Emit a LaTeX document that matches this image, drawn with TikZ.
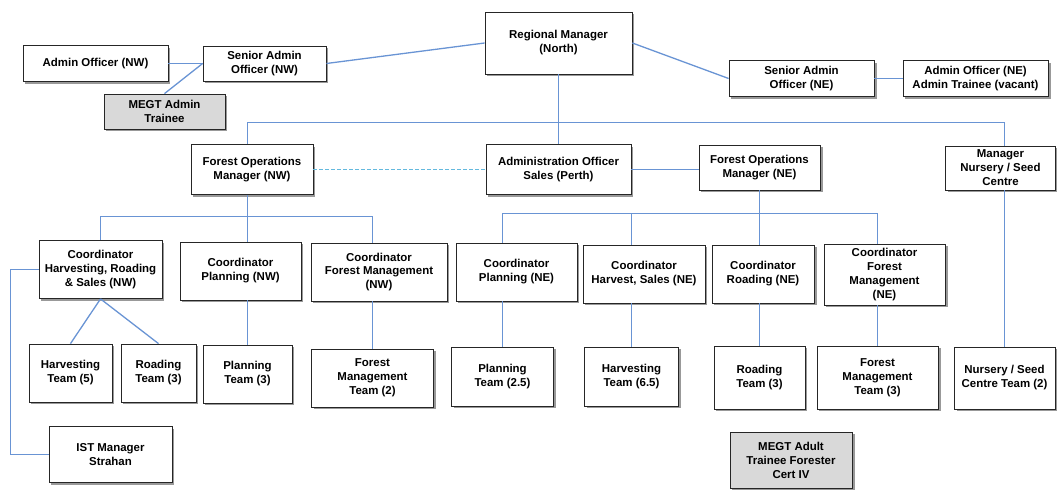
\documentclass[tikz,border=0pt]{standalone}
\usepackage{fontspec}
\setmainfont{Liberation Sans}
\usetikzlibrary{shadows}
\definecolor{linkblue}{RGB}{105,148,212}
\definecolor{dashblue}{RGB}{100,185,222}
\definecolor{traineegray}{RGB}{217,217,217}

\begin{document}
\begin{tikzpicture}[x=1bp, y=-1bp,
    font=\bfseries\fontsize{11.5}{14}\selectfont,
    box/.style={draw=black!85, line width=0.8pt, fill=white, align=center, inner sep=1pt,
        drop shadow={shadow xshift=2.5pt, shadow yshift=-2.5pt, fill=black, opacity=0.4}},
    trainee/.style={box, fill=traineegray},
    link/.style={draw=linkblue, line width=1.3bp},
    dotlink/.style={draw=dashblue, line width=1.3bp, dash pattern=on 4bp off 2bp}]

    \useasboundingbox (0,0) rectangle (1057,490);

    % Top row
    \node[box, minimum width=145bp, minimum height=36bp] (adminnw) at (95.5,63.5) {Admin Officer (NW)};
    \node[box, minimum width=123bp, minimum height=35bp] (seniornw) at (264.5,63.5) {Senior Admin\\Officer (NW)};
    \node[trainee, minimum width=121bp, minimum height=35bp] (megtadmin) at (164.5,111.5) {MEGT Admin\\Trainee};
    \node[box, minimum width=147bp, minimum height=62bp] (regional) at (558.5,43) {Regional Manager\\(North)};
    \node[box, minimum width=145bp, minimum height=36bp] (seniorne) at (801.5,78.5) {Senior Admin\\Officer (NE)};
    \node[box, minimum width=145bp, minimum height=36bp] (adminne) at (975.5,78.5) {Admin Officer (NE)\\Admin Trainee (vacant)};

    % Managers
    \node[box, minimum width=122bp, minimum height=50bp] (fomnw) at (252,169.5) {Forest Operations\\Manager (NW)};
    \node[box, minimum width=145bp, minimum height=50bp] (adminsales) at (558.5,169.5) {Administration Officer\\Sales (Perth)};
    \node[box, minimum width=121bp, minimum height=45bp] (fomne) at (759.5,167.5) {Forest Operations\\Manager (NE)};
    \node[box, minimum width=110bp, minimum height=44bp] (mgrnursery) at (1000.5,168) {Manager\\Nursery / Seed\\Centre};

    % Coordinators
    \node[box, minimum width=123bp, minimum height=58bp] (coordhrsnw) at (100.5,269.5) {Coordinator\\Harvesting, Roading\\\& Sales (NW)};
    \node[box, minimum width=121bp, minimum height=58bp] (coordplannw) at (240.5,271) {Coordinator\\Planning (NW)};
    \node[box, minimum width=136bp, minimum height=58bp] (coordfmnw) at (379,272) {Coordinator\\Forest Management\\(NW)};
    \node[box, minimum width=121bp, minimum height=58bp] (coordplanne) at (516.5,272) {Coordinator\\Planning (NE)};
    \node[box, minimum width=122bp, minimum height=58bp] (coordhsne) at (644,274) {Coordinator\\Harvest, Sales (NE)};
    \node[box, minimum width=102bp, minimum height=58bp] (coordroadne) at (763,274) {Coordinator\\Roading (NE)};
    \node[box, minimum width=121bp, minimum height=61bp] (coordfmne) at (884.5,274.5) {Coordinator\\Forest\\Management\\(NE)};

    % Teams
    \node[box, minimum width=83bp, minimum height=58bp] (hteamnw) at (70.5,373) {Harvesting\\Team (5)};
    \node[box, minimum width=75bp, minimum height=58bp] (rteamnw) at (158.5,373) {Roading\\Team (3)};
    \node[box, minimum width=89bp, minimum height=58bp] (pteamnw) at (247.5,374) {Planning\\Team (3)};
    \node[box, minimum width=122bp, minimum height=58bp] (fmteamnw) at (372.5,378) {Forest\\Management\\Team (2)};
    \node[box, minimum width=102bp, minimum height=59bp] (pteamne) at (502.5,376.5) {Planning\\Team (2.5)};
    \node[box, minimum width=94bp, minimum height=59bp] (hteamne) at (631.5,376.5) {Harvesting\\Team (6.5)};
    \node[box, minimum width=91bp, minimum height=63bp] (rteamne) at (759.5,377.5) {Roading\\Team (3)};
    \node[box, minimum width=121bp, minimum height=63bp] (fmteamne) at (877.5,377.5) {Forest\\Management\\Team (3)};
    \node[box, minimum width=101bp, minimum height=62bp] (nurseryteam) at (1004.5,378) {Nursery / Seed\\Centre Team (2)};

    % Others
    \node[box, minimum width=123bp, minimum height=56bp] (istmgr) at (110.5,454.5) {IST Manager\\Strahan};
    \node[trainee, minimum width=122bp, minimum height=56bp] (megtadult) at (791,460) {MEGT Adult\\Trainee Forester\\Cert IV};

    % Bus lines
    \coordinate (mainbus) at (558.5,122.5);
    \coordinate (nwbus) at (247.5,216.5);
    \coordinate (nebus) at (759.5,213.5);
    \coordinate (istbend) at (10.5,269.5);

    % Top links
    \draw[link] (adminnw.east) -- (seniornw.west);
    \draw[link] (seniornw.west) -- (megtadmin.north);
    \draw[link] (seniornw.east) -- (regional.west);
    \draw[link] (regional.east) -- (seniorne.west);
    \draw[link] (seniorne.east) -- (adminne.west);
    \draw[link] (regional.south) -- (adminsales.north);
    \draw[link] (pteamnw |- fomnw.north) -- (pteamnw |- mainbus) -- (nurseryteam |- mainbus) -- (nurseryteam |- mgrnursery.north);
    \draw[dotlink] (fomnw.east) -- (adminsales.west);
    \draw[link] (adminsales.east) -- (adminsales.east -| fomne.west);

    % NW links
    \draw[link] (pteamnw |- fomnw.south) -- (pteamnw |- coordplannw.north);
    \draw[link] (coordhrsnw.north) -- (coordhrsnw.north |- nwbus) -- (fmteamnw |- nwbus) -- (fmteamnw |- coordfmnw.north);
    \draw[link] (coordhrsnw.south) -- (hteamnw.north);
    \draw[link] (coordhrsnw.south) -- (rteamnw.north);
    \draw[link] (pteamnw |- coordplannw.south) -- (pteamnw.north);
    \draw[link] (fmteamnw |- coordfmnw.south) -- (fmteamnw.north);
    \draw[link] (coordhrsnw.west) -- (istbend) |- (istmgr.west);

    % NE links
    \draw[link] (rteamne |- fomne.south) -- (rteamne |- coordroadne.north);
    \draw[link] (pteamne |- coordplanne.north) -- (pteamne |- nebus) -- (fmteamne |- nebus) -- (fmteamne |- coordfmne.north);
    \draw[link] (hteamne |- nebus) -- (hteamne |- coordhsne.north);
    \draw[link] (pteamne |- coordplanne.south) -- (pteamne.north);
    \draw[link] (hteamne |- coordhsne.south) -- (hteamne.north);
    \draw[link] (rteamne |- coordroadne.south) -- (rteamne.north);
    \draw[link] (fmteamne |- coordfmne.south) -- (fmteamne.north);
    \draw[link] (nurseryteam |- mgrnursery.south) -- (nurseryteam.north);

\end{tikzpicture}
\end{document}
